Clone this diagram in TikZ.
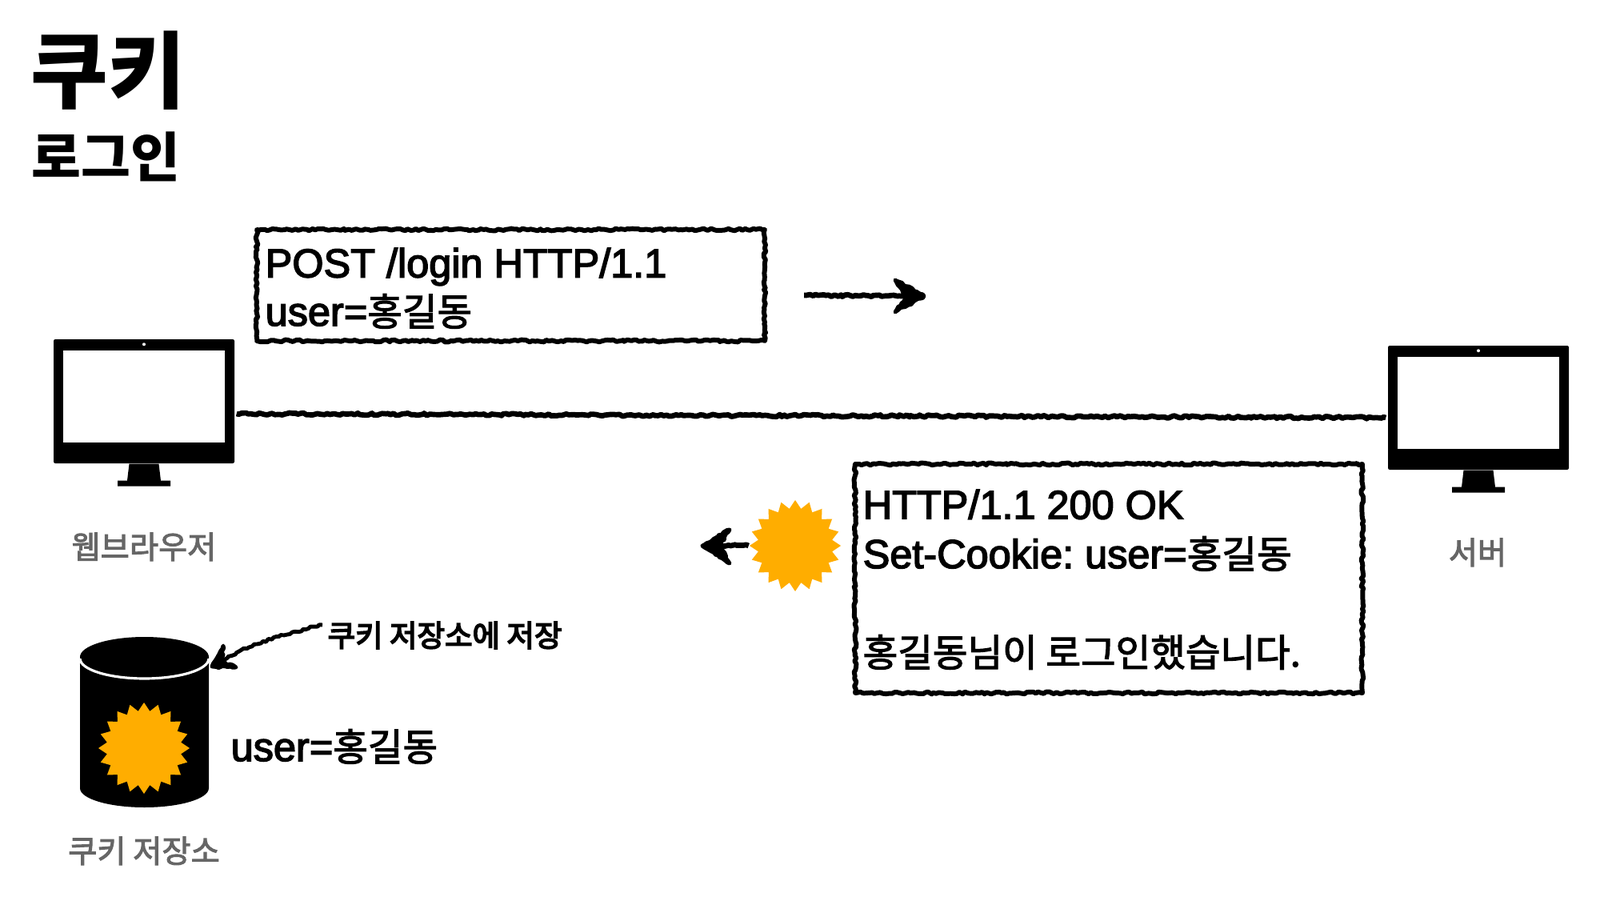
\documentclass[tikz,border=0pt]{standalone}
\usepackage{fontspec}
\usetikzlibrary{decorations.pathmorphing,shapes.geometric}
\setmainfont[FakeBold=3]{Liberation Sans}
\newfontfamily\krfont[Scale=0.94,FakeBold=2.5]{Noto Sans CJK KR}
\newfontfamily\krstrong[Scale=0.94,FakeBold=4.5]{Noto Sans CJK KR}
\newfontfamily\krplain[Scale=0.92]{Noto Sans CJK KR}
\newcommand{\kr}[1]{{\krfont #1}}
\definecolor{cookie}{HTML}{FFAD00}
\definecolor{caption}{HTML}{666666}
\frenchspacing

\begin{document}
\begin{tikzpicture}[
  rough/.style={decoration={random steps,segment length=1pt,amplitude=.4pt},decorate,line join=round},
  roughline/.style={rough,draw=black,line width=1.9pt},
  roughhead/.style={rough,draw=black,fill=black,line width=1.4pt},
  msgbox/.style={rectangle,roughline,line width=1.7pt,inner sep=0},
  msgtext/.style={anchor=base west,align=left,inner sep=0,font=\fontsize{14.35}{17.2}\selectfont},
  monbody/.style={rectangle,fill=black,rounded corners=.6pt,minimum width=2.26cm,minimum height=1.55cm,inner sep=0},
  monscreen/.style={rectangle,fill=white,minimum width=2.02cm,minimum height=1.15cm,inner sep=0},
  camdot/.style={circle,fill=white,minimum size=.04cm,inner sep=0},
  capt/.style={anchor=base,inner sep=0,text=caption,font=\fontsize{11.9}{14}\selectfont},
  cookiestar/.style={star,star points=20,star point ratio=1.22,fill=cookie,minimum size=1.14cm,inner sep=0}]
\useasboundingbox (0,0) rectangle (20,11.45);

% title
\node[anchor=base west,inner sep=0,font=\fontsize{32.5}{33}\selectfont] (title) at (.38,10.17) {\krplain\bfseries 쿠키};
\node[anchor=base west,inner sep=0,font=\fontsize{20.8}{21}\selectfont] (subtitle) at (.39,9.23) {\krplain\bfseries 로그인};

% monitors
\node[monbody] (browser) at (1.80,6.435) {};
\node[monbody] (server) at (18.48,6.355) {};
\foreach \mon in {browser,server} {
  \node[monscreen] (\mon screen) at ([yshift=.06cm]\mon) {};
  \node[camdot] (\mon cam) at ([yshift=-.07cm]\mon.north) {};
  \fill ([xshift=-.185cm]\mon.south) -- ([xshift=-.21cm,yshift=-.21cm]\mon.south)
        -- ([xshift=-.33cm,yshift=-.21cm]\mon.south) -- ([xshift=-.33cm,yshift=-.28cm]\mon.south)
        -- ([xshift=.33cm,yshift=-.28cm]\mon.south) -- ([xshift=.33cm,yshift=-.21cm]\mon.south)
        -- ([xshift=.21cm,yshift=-.21cm]\mon.south) -- ([xshift=.185cm]\mon.south) -- cycle;
}
\node[capt] (browserlabel) at (1.80,4.47) {\krfont 웹브라우저};
\node[capt] (serverlabel) at (18.47,4.40) {\krfont 서버};

\draw[roughline] ([shift={(.02,-.155)}]browser.east) -- ([shift={(-.02,-.125)}]server.west);

% request
\node[msgbox,minimum width=6.35cm,minimum height=1.39cm] (reqbox) at (6.385,7.885) {};
\node[msgtext] (reqtext) at (3.31,7.38) {POST /login HTTP/1.1\\user=\kr{홍길동}};
\coordinate (reqstart) at (10.05,7.76);
\coordinate (reqtip) at (11.55,7.75);
\draw[roughline] (reqstart) -- ([xshift=-.15cm]reqtip);
\draw[roughhead] (reqtip) -- ([shift={(-.36,.20)}]reqtip) -- ([shift={(-.22,0)}]reqtip)
      -- ([shift={(-.36,-.20)}]reqtip) -- cycle;

% response
\node[msgbox,minimum width=6.34cm,minimum height=2.86cm] (resbox) at (13.86,4.22) {};
\node[msgtext,font=\fontsize{14.35}{17.5}\selectfont] (restext) at (10.78,3.12)
  {HTTP/1.1 200 OK\\Set-Cookie: user=\kr{홍길동}\\[0pt]\mbox{}\\\kr{홍길동님이 로그인했습니다.}};
\node[cookiestar] (rescookie) at (9.94,4.63) {};
\coordinate (restip) at (8.78,4.63);
\draw[roughline] (rescookie.west) -- ([xshift=.15cm]restip);
\draw[roughhead] (restip) -- ([shift={(.34,.20)}]restip) -- ([shift={(.22,0)}]restip)
      -- ([shift={(.34,-.22)}]restip) -- cycle;

% cookie store
\fill (1.00,3.24) -- (1.00,1.60) arc [start angle=180,end angle=360,x radius=.805,y radius=.24]
      -- (2.61,3.24) arc [start angle=0,end angle=180,x radius=.805,y radius=.25] -- cycle;
\draw[white,line width=.9pt] (1.00,3.22) arc [start angle=180,end angle=360,x radius=.805,y radius=.25];
\node[cookiestar] (storecookie) at (1.80,2.10) {};
\node[msgtext] (storetext) at (2.88,1.94) {user=\kr{홍길동}};
\node[capt] (storelabel) at (1.80,.67) {\krfont 쿠키 저장소};
\node[anchor=base west,inner sep=0,font=\fontsize{11.35}{13}\selectfont] (savelabel) at (4.09,3.37) {\krstrong 쿠키 저장소에 저장};
\coordinate (savetip) at (2.65,3.12);
\draw[roughline,line width=1.4pt] ([shift={(-.06,.13)}]savelabel.west) .. controls (3.50,3.52) and (3.00,3.35) .. ([shift={(.12,.06)}]savetip);
\draw[roughhead] (savetip) -- ([shift={(.14,.26)}]savetip) -- ([shift={(.12,.06)}]savetip)
      -- ([shift={(.30,-.01)}]savetip) -- cycle;
\end{tikzpicture}
\end{document}
